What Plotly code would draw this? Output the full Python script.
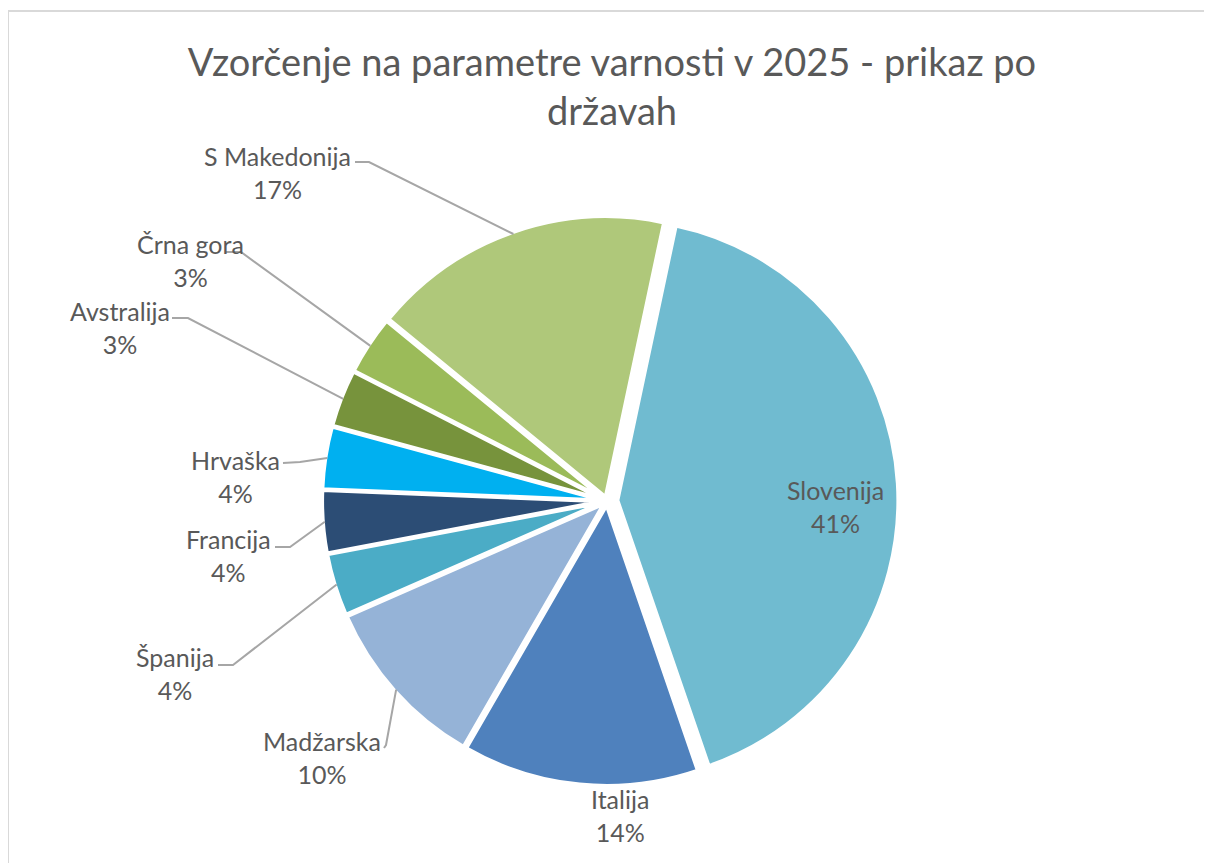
import math
import plotly.graph_objects as go

# ---------------- data ----------------
countries = ["Slovenija", "Italija", "Madžarska", "Španija", "Francija",
             "Hrvaška", "Avstralija", "Črna gora", "S Makedonija"]
shares = [41.4, 13.6, 10.1, 3.6, 3.6, 3.6, 3.3, 3.4, 17.4]
colors = ["#70BBD0", "#4F81BD", "#95B3D7", "#4BACC6", "#2C4D75",
          "#00B0F0", "#77933C", "#9BBB59", "#AFC87A"]
pulls = [0.037, 0.014, 0.014, 0.014, 0.014, 0.014, 0.014, 0.014, 0.014]
title_text = "Vzorčenje na parametre varnosti v 2025 - prikaz po<br>državah"

# ---------------- layout geometry (page pixels) ----------------
OFF = 8                    # page body margin
W, H = 1212 - OFF, 863 - OFF   # figure size that fits the window
CX, CY = 607, 501          # pie centre
R = 281                    # pie radius
ROT = 12                   # start angle, degrees clockwise from 12 o'clock
FONT = "Lato"
TXT = "#595959"
LINE = "#A6A6A6"

# label block centres and leader-line stubs (start, elbow) in pixels
label_pos = {
    "S Makedonija": (277, 173, (355, 162, 369, 162)),
    "Črna gora": (190, 260, (226, 252, 241, 252)),
    "Avstralija": (120, 327, (172, 318, 188, 318)),
    "Hrvaška": (235, 476, (283, 463, 300, 462)),
    "Francija": (228, 555, (275, 547, 290, 547)),
    "Španija": (175, 673, (218, 665, 233, 665)),
    "Madžarska": (322, 757, (384, 748, 386, 745)),
    "Italija": (620, 815, None),
    "Slovenija": (835, 506, None),
}


def px(x):
    return (x - OFF) / W


def py(y):
    return 1 - (y - OFF) / H


maxpull = max(pulls)
half = R * (1 + maxpull)

fig = go.Figure(go.Pie(
    labels=countries,
    values=shares,
    sort=False,
    direction="clockwise",
    rotation=ROT,
    pull=pulls,
    marker=dict(colors=colors, line=dict(color="white", width=4)),
    textinfo="none",
    hoverinfo="label+percent",
    showlegend=False,
    domain=dict(x=[px(CX - half), px(CX + half)],
                y=[py(CY + half), py(CY - half)]),
))

total = sum(shares)
annotations = []
shapes = []
cum = 0.0
for name, v, pl in zip(countries, shares, pulls):
    mid = math.radians(ROT + (cum + v / 2) / total * 360)
    cum += v
    lx, ly, stub = label_pos[name]
    pct = f"{round(v / total * 100)}%"
    annotations.append(dict(
        x=px(lx), y=py(ly), xref="paper", yref="paper",
        text=f"{name}<br>{pct}", showarrow=False,
        xanchor="center", yanchor="middle", align="center",
        font=dict(family=FONT, size=25, color=TXT),
    ))
    if stub is not None:
        rr = R * (1 + pl) - 2
        ex = CX + rr * math.sin(mid)
        ey = CY - rr * math.cos(mid)
        x0, y0, x1, y1 = stub
        shapes.append(dict(
            type="path", xref="paper", yref="paper",
            path=f"M {px(x0)},{py(y0)} L {px(x1)},{py(y1)} L {px(ex)},{py(ey)}",
            line=dict(color=LINE, width=2),
        ))

# chart frame (top and left edges visible)
shapes.append(dict(
    type="path", xref="paper", yref="paper",
    path=f"M {px(8)},{py(H + 40)} L {px(8)},{py(11)} L {px(W + 40)},{py(11)}",
    line=dict(color="#D9D9D9", width=2),
))

fig.update_layout(
    width=W, height=H,
    margin=dict(l=0, r=0, t=0, b=0),
    paper_bgcolor="white", plot_bgcolor="white",
    title=dict(text=title_text, x=px(612), xanchor="center",
               y=py(76), yanchor="middle", xref="paper", yref="paper",
               font=dict(family=FONT, size=38, color=TXT)),
    annotations=annotations,
    shapes=shapes,
)

fig.write_html("out.html")
